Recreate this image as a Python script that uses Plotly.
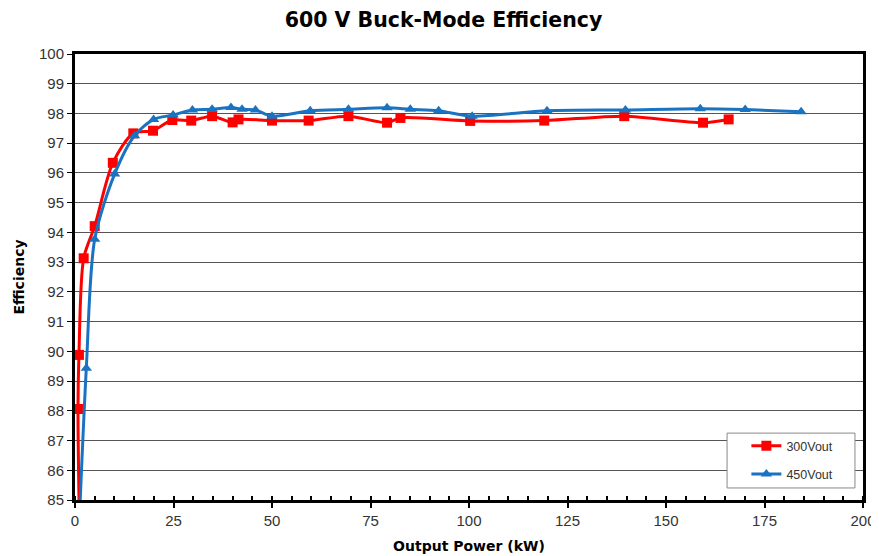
import plotly.graph_objects as go

# 300Vout series (red squares)
x_300 = [1.2, 0.76, 1.0, 2.2, 5.0, 9.6, 14.8, 19.8, 24.7, 29.5, 34.8, 40.0, 41.5, 50.0,
         59.3, 69.4, 79.2, 82.6, 100.3, 119.1, 139.4, 159.4, 165.9]
y_300 = [83.5, 88.06, 89.88, 93.13, 94.21, 96.34, 97.33, 97.42, 97.78, 97.76, 97.91, 97.7, 97.8, 97.76,
         97.76, 97.91, 97.69, 97.85, 97.75, 97.76, 97.91, 97.69, 97.8]

# 450Vout series (blue triangles)
x_450 = [1.0, 2.87, 5.0, 10.05, 15.1, 19.95, 24.9, 29.8, 34.8, 39.6, 42.4, 45.8, 50.0,
         59.7, 69.4, 79.2, 85.1, 92.3, 100.8, 119.8, 139.7, 158.7, 170.1, 184.3]
y_450 = [84.0, 89.43, 93.77, 95.96, 97.25, 97.8, 97.95, 98.12, 98.14, 98.2, 98.14, 98.12, 97.91,
         98.09, 98.14, 98.19, 98.14, 98.09, 97.91, 98.09, 98.12, 98.16, 98.13, 98.06]

title_text = "600 V Buck-Mode Efficiency"
x_title = "Output Power (kW)"
y_title = "Efficiency"
names = ["300Vout", "450Vout"]

FONT = "Liberation Sans, Arial, sans-serif"
BOLD = "DejaVu Sans, Verdana, sans-serif"
RED = "#ff0000"
BLUE = "#1a73c0"

W, H = 871, 548

fig = go.Figure()
fig.add_trace(go.Scatter(
    x=x_300, y=y_300, name=names[0], mode="lines+markers", legendgroup="a",
    line=dict(color=RED, width=3, shape="spline", smoothing=0.8),
    marker=dict(symbol="square", size=10, color=RED),
    cliponaxis=True,
))
fig.add_trace(go.Scatter(
    x=x_450, y=y_450, name=names[1], mode="lines+markers", legendgroup="b",
    line=dict(color=BLUE, width=3, shape="spline", smoothing=0.8),
    marker=dict(symbol="triangle-up", size=10, color=BLUE),
    cliponaxis=True,
))

# legend frame box (drawn as a paper-referenced rectangle)
fig.add_shape(type="rect", xref="paper", yref="paper",
              x0=0.8275, x1=0.9898, y0=0.027, y1=0.150,
              line=dict(color="#888888", width=1), fillcolor="white", layer="above")

fig.update_layout(
    width=W, height=H,
    paper_bgcolor="white", plot_bgcolor="white",
    margin=dict(l=67, r=16, t=46, b=56, autoexpand=False),
    font=dict(family=FONT, color="#333333"),
    title=dict(text=title_text, x=0.5, xanchor="center", y=1 - 12 / H, yanchor="middle",
               font=dict(family=BOLD, size=20.5, color="#000000", weight="bold")),
    showlegend=True,
    legend=dict(
        x=0.852, xanchor="left", y=0.1547, yanchor="top",
        bgcolor="rgba(0,0,0,0)", borderwidth=0,
        font=dict(family=FONT, size=12.5, color="#333333"),
        tracegroupgap=9,
    ),
)

fig.update_xaxes(
    range=[0, 200], dtick=25, tick0=0,
    showgrid=False, zeroline=False,
    showline=True, linecolor="black", linewidth=3, mirror=True,
    ticks="outside", ticklen=5, tickwidth=1.5, tickcolor="black",
    minor=dict(dtick=5, ticks="inside", ticklen=4, tickcolor="black", showgrid=False),
    tickfont=dict(family=FONT, size=15, color="#333333"),
    title=dict(text=x_title, standoff=14,
               font=dict(family=BOLD, size=14, color="#000000", weight="bold")),
    automargin=False,
)
fig.update_yaxes(
    range=[85, 100], dtick=1, tick0=85,
    showgrid=True, gridcolor="#555555", gridwidth=1, zeroline=False,
    showline=True, linecolor="black", linewidth=3, mirror=True,
    ticks="outside", ticklen=5, tickwidth=1, tickcolor="black",
    tickfont=dict(family=FONT, size=15, color="#333333"),
    title=dict(text=y_title, standoff=12,
               font=dict(family=BOLD, size=14, color="#000000", weight="bold")),
    automargin=False,
)

fig.write_html("out.html")
